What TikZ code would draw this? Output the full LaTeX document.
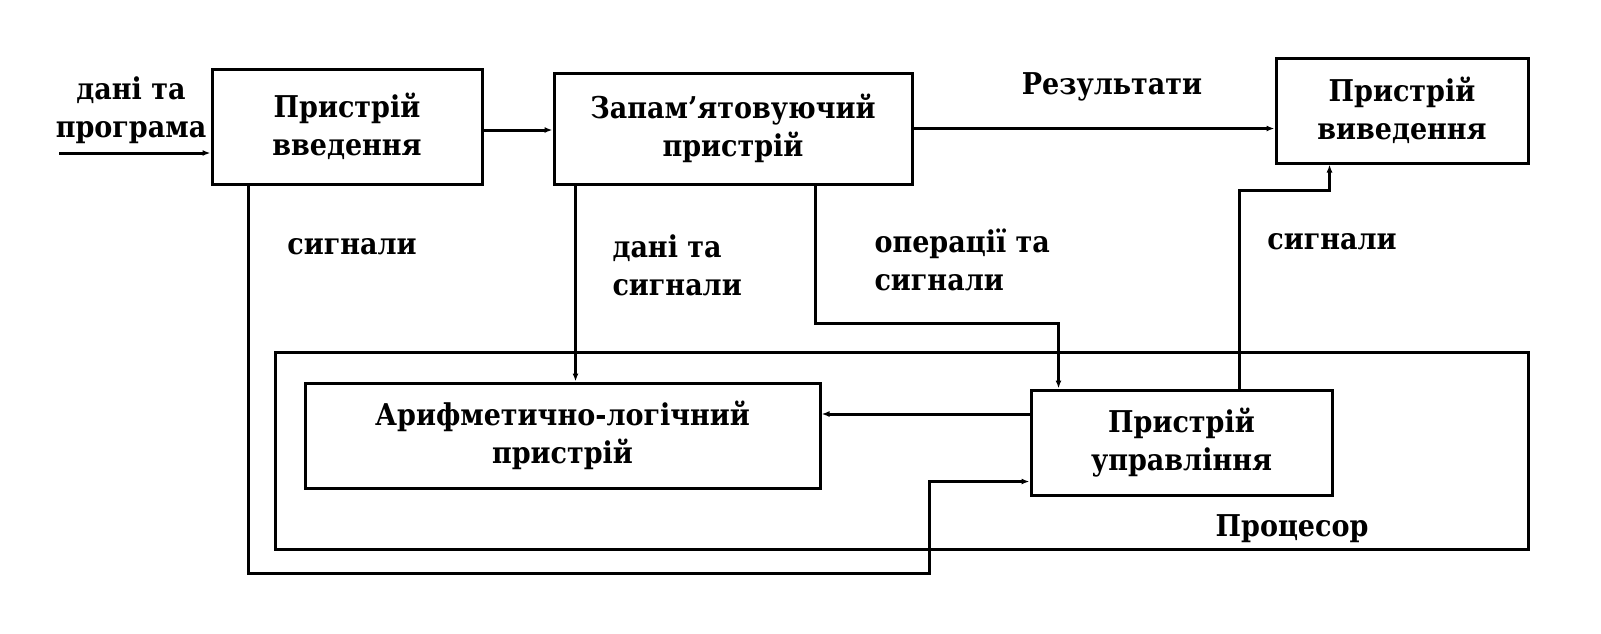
\documentclass[tikz,border=0pt]{standalone}
\usepackage{fontspec}
\setmainfont{DejaVu Serif Condensed}
\usetikzlibrary{arrows.meta,positioning}
\begin{document}
\begin{tikzpicture}[
      x=0.5pt,y=-0.5pt,
      font=\fontsize{15}{19}\selectfont\bfseries,
      line width=1.5pt,
      blok/.style={draw,line width=1.5pt,align=center,inner sep=0pt},
      lbl/.style={align=center,inner sep=0pt},
      arr/.style={-{Latex[length=4pt,width=3pt]}},
    ]
    \useasboundingbox (0,0) rectangle (1601,633);
    % blocks
    \node[blok,minimum width=135pt,minimum height=57.5pt] (vvid) at (347,126.5) {Пристрій\\введення};
    \node[blok,minimum width=179pt,minimum height=55.5pt] (pam) at (733,128.5) {Запам’ятовуючий\\пристрій};
    \node[blok,minimum width=126pt,minimum height=52.5pt] (vyv) at (1402,110.5) {Пристрій\\виведення};
    \node[blok,minimum width=626.5pt,minimum height=98.5pt] (proc) at (901.5,450.5) {};
    \node[blok,minimum width=257.5pt,minimum height=52.5pt] (alp) at (562.5,435.5) {Арифметично-логічний\\пристрій};
    \node[blok,minimum width=150.5pt,minimum height=52.5pt] (upr) at (1181.5,442.5) {Пристрій\\управління};
    % labels
    \node[lbl] (ldp) at (131,110) {дані та\\програма};
    \node[lbl] (lrez) at (1112,87) {Результати};
    \node[lbl] (lsig1) at (352,247) {сигнали};
    \node[lbl,anchor=west,align=left] (lds) at (611,265) {дані та\\сигнали};
    \node[lbl,anchor=west,align=left] (lops) at (873,260) {операції та\\сигнали};
    \node[lbl] (lsig2) at (1332,242) {сигнали};
    \node[lbl] (lproc) at (1292,529) {Процесор};
    % connectors
    \coordinate (vhid) at (59,153);
    \coordinate (vvidb) at ([yshift=-1.75pt]vvid.east);
    \coordinate (vvida) at ([xshift=19pt]vvid.south west);
    \coordinate (pama) at ([xshift=11.5pt]pam.south west);
    \coordinate (pamb) at ([xshift=131.5pt]pam.south west);
    \coordinate (vyva) at ([xshift=27.5pt]vyv.south west);
    \coordinate (upra) at ([yshift=14.25pt]upr.west);
    \coordinate (uprb) at ([yshift=7.5pt]upr.south west);
    \coordinate (uprc) at ([xshift=14.5pt]upr.north west);
    \coordinate (uprd) at ([xshift=105pt]upr.north west);
    \draw[arr] (vhid) -- (vhid -| vvid.west);
    \draw[arr] (vvidb) -- (vvidb -| pam.west);
    \draw[arr] (pam.east) -- (pam.east -| vyv.west);
    \draw[arr] (pama) -- (pama |- alp.north);
    \draw[arr] (pamb) -- ++(0,138) -| (uprc);
    \draw[arr] (uprd) -- ++(0,-198) -| (vyva);
    \draw[arr] (upra) -- (upra -| alp.east);
    \draw[arr] (vvida) -- ++(0,388) -- ++(681,0) |- (uprb);
  \end{tikzpicture}
\end{document}
